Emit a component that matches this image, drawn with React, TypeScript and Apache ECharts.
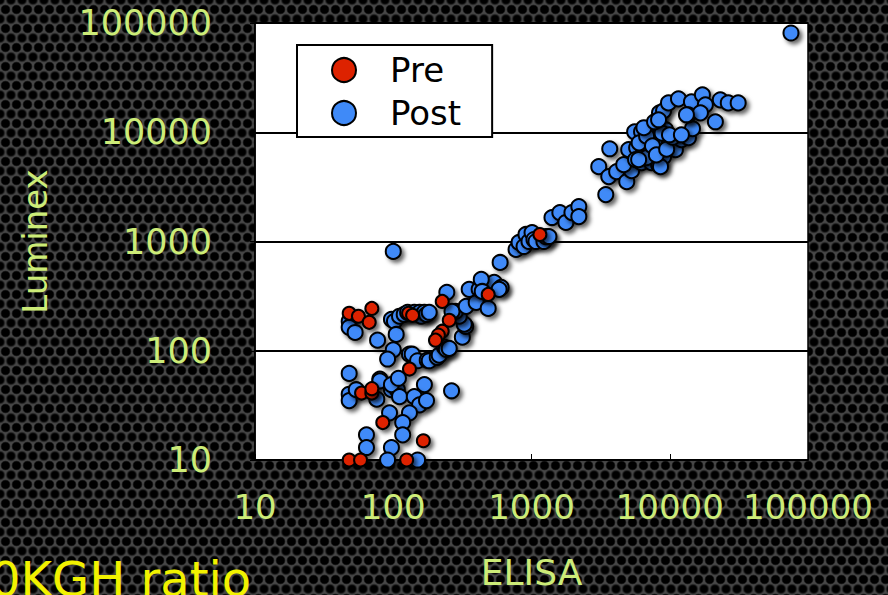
import React, { useEffect, useRef } from "react";
import * as echarts from "echarts";

const seriesNames = ["Pre", "Post"];
const xTickLabels = ["10", "100", "1000", "10000", "100000"];
const yTickLabels = ["10", "100", "1000", "10000", "100000"];
const xAxisTitle = "ELISA";
const yAxisTitle = "Luminex";
const footerText = "0KGH ratio";

// [ELISA, Luminex]
const preData: [number, number][] = [
  [48, 220], [56, 207], [70, 244], [67, 182], [129, 220], [138, 211],
  [226, 283], [254, 190], [226, 151], [212, 139], [202, 125], [486, 328],
  [131, 68], [59, 41], [70, 41], [70, 45], [84, 22], [165, 15],
  [48, 10], [58, 10], [125, 10], [1150, 1160],
];

const postData: [number, number][] = [
  [48, 186], [48, 164], [53, 147], [77, 125], [97, 194], [102, 186], [105, 141],
  [111, 207], [120, 215], [127, 225], [142, 225], [155, 225], [159, 207], [168, 225], [174, 215], [182, 225],
  [100, 102], [91, 84], [131, 93], [137, 93], [150, 81], [176, 82], [182, 81], [208, 87], [215, 91],
  [234, 108], [242, 103], [254, 105],
  [316, 133], [334, 167], [326, 175], [300, 207], [282, 229], [266, 229], [244, 343],
  [337, 255], [398, 277], [486, 244], [354, 365], [418, 365], [537, 423], [603, 380], [433, 450], [440, 349], [583, 365],
  [593, 643],
  [773, 845], [813, 980], [883, 900], [912, 1160], [959, 1000], [1009, 1208], [1042, 1043], [1077, 1000],
  [1230, 1000], [1270, 1110], [1337, 1110],
  [1406, 1657], [1603, 1840], [1773, 1493], [1960, 1840], [2199, 2088], [2199, 1690],
  [3445, 2688],
  [3065, 4840], [3620, 3925], [4130, 4357], [4885, 3530], [5300, 4450], [4645, 5050], [3680, 7060],
  [5570, 10100], [6250, 10100], [7030, 10550], [7890, 11000], [8570, 11220], [9310, 10550],
  [5045, 6925], [5760, 7210], [6470, 6640], [7260, 6780], [7630, 8546], [8570, 8180], [9950, 8010],
  [10990, 6925], [12140, 8546], [13650, 8920], [14600, 10770],
  [5660, 5612], [6250, 5260], [7380, 5260], [8300, 5050], [6790, 5850], [9020, 5975], [8570, 4840], [5955, 5612],
  [6000, 8000], [6800, 9200], [7500, 7500], [8000, 6200], [9500, 7000], [10500, 9000], [6500, 11000], [8800, 9800],
  [8430, 15060], [9020, 15710], [9790, 18570], [11560, 20210], [14350, 19000], [17230, 22000], [18100, 17830],
  [23200, 19800], [26500, 18570], [31250, 18570], [13650, 14450], [16670, 15060], [21380, 12470], [7760, 12470],
  [9950, 9480], [12140, 9480], [8300, 13000], [13200, 14450],
  [75300, 81000], [100, 811],
  [48, 62], [48, 40], [48, 35], [54, 44], [80, 55], [80, 53], [76, 36], [97, 44], [107, 44], [97, 49],
  [109, 56], [111, 38], [168, 49], [142, 38], [155, 32], [174, 35], [264, 43], [94, 27], [131, 27],
  [117, 22], [117, 17], [64, 17], [64, 13], [97, 13], [91, 10], [150, 10],
];

const labelColor = "#cdec78";
const font = "DejaVu Sans, Verdana, sans-serif";

export default function App() {
  const ref = useRef<HTMLDivElement>(null);
  useEffect(() => {
    document.body.style.margin = "0";
    const chart = echarts.init(ref.current!, undefined, { renderer: "svg" });
    const dotStyle = (color: string) => ({
      color,
      opacity: 1,
      borderColor: "#000",
      borderWidth: 2,
      shadowBlur: 4,
      shadowOffsetX: 3,
      shadowOffsetY: 3,
      shadowColor: "rgba(0,0,0,0.6)",
    });
    chart.setOption({
      animation: false,
      backgroundColor: "transparent",
      textStyle: { fontFamily: font },
      grid: {
        left: 255, top: 23, width: 553, height: 438,
        show: true, backgroundColor: "#fff", borderColor: "#000", borderWidth: 1.5,
      },
      legend: {
        data: seriesNames,
        orient: "vertical",
        left: 297, top: 45,
        icon: "circle",
        itemWidth: 24, itemHeight: 24, itemGap: 9,
        padding: [8, 31, 7, 34],
        backgroundColor: "#fff", borderColor: "#000", borderWidth: 2,
        textStyle: { color: "#000", fontSize: 34, fontFamily: font, padding: [0, 0, 0, 29] },
        itemStyle: { opacity: 1, borderWidth: 2, shadowBlur: 0, shadowOffsetX: 0, shadowOffsetY: 0, shadowColor: "transparent" },
      },
      xAxis: {
        type: "log", logBase: 10, min: 10, max: 100000,
        name: xAxisTitle, nameLocation: "middle", nameGap: 94,
        nameTextStyle: { color: labelColor, fontSize: 36, fontFamily: font },
        axisLine: { show: true, lineStyle: { color: "#000", width: 1.5 } },
        axisTick: { show: true, inside: true, length: 6, lineStyle: { color: "#000" } },
        axisLabel: {
          color: labelColor, fontSize: 34, margin: 30, fontFamily: font,
          formatter: (_v: number, i: number) => xTickLabels[i] ?? "",
        },
        splitLine: { show: false },
        minorTick: { show: false },
      },
      yAxis: {
        type: "log", logBase: 10, min: 10, max: 100000,
        name: yAxisTitle, nameLocation: "middle", nameGap: 203, nameRotate: 90,
        nameTextStyle: { color: labelColor, fontSize: 34, fontFamily: font },
        axisLine: { show: true, lineStyle: { color: "#000", width: 1.5 } },
        axisTick: { show: true, inside: false, length: 5, lineStyle: { color: "#000" } },
        axisLabel: {
          color: labelColor, fontSize: 35, margin: 43, fontFamily: font,
          formatter: (_v: number, i: number) => yTickLabels[i] ?? "",
        },
        splitLine: { show: true, lineStyle: { color: "#000", width: 2 } },
      },
      graphic: [
        {
          type: "text", left: -10, top: 555,
          style: { text: footerText, fill: "#f2f200", fontSize: 48, fontFamily: font },
        },
      ],
      series: [
        {
          name: "Post", type: "scatter", data: postData, symbolSize: 15,
          itemStyle: dotStyle("#3f8af8"), z: 2,
        },
        {
          name: "Pre", type: "scatter", data: preData, symbolSize: 13,
          itemStyle: dotStyle("#dd2200"), z: 3,
        },
      ],
    });
    return () => chart.dispose();
  }, []);
  return (
    <div
      ref={ref}
      style={{
        width: 888,
        height: 595,
        backgroundColor: "#474747",
        backgroundImage:
          "radial-gradient(circle, #000 0, #000 3.6px, #1c1c1c 4.4px, transparent 5.2px), radial-gradient(circle, #000 0, #000 3.6px, #1c1c1c 4.4px, transparent 5.2px)",
        backgroundSize: "11px 19px",
        backgroundPosition: "0 0, 5.5px 9.5px",
      }}
    />
  );
}
